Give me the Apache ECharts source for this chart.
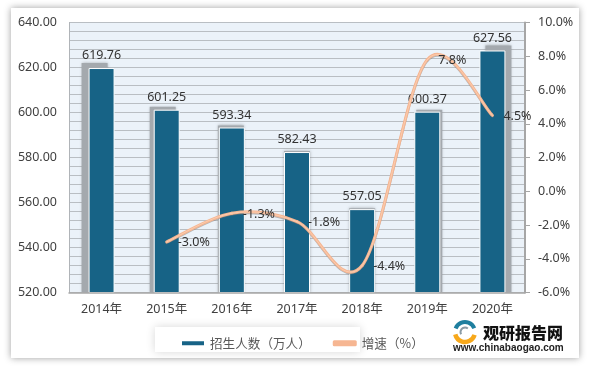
<!DOCTYPE html>
<html><head><meta charset="utf-8">
<style>html,body{margin:0;padding:0;background:#fff}#c{width:589px;height:373px}</style>
<script src="https://cdn.jsdelivr.net/npm/echarts@6/dist/echarts.min.js"></script>
</head><body><div id="c"></div>
<script>
const categories = ['2014年','2015年','2016年','2017年','2018年','2019年','2020年'];
const enrolment = [619.76,601.25,593.34,582.43,557.05,600.37,627.56];
const growth = [null,-3.0,-1.3,-1.8,-4.4,7.8,4.5];
const barShadowX = [-7,-4,-1,0,0,2,6];
const barShadowY = [-5,-3,-2,-1,-1,-2,-5];
const barName = '招生人数（万人）';
const lineName = '增速（%）';
const logoTitle = '观研报告网';
const logoUrl = 'www.chinabaogao.com';
const latin = '"Noto Sans","Noto Sans CJK SC",sans-serif';
const BAR_W = 26;

function seg(api, i){
  const p = k => api.coord([k, growth[k]]);
  const first = 1, last = growth.length-1;
  const p1 = p(i), p2 = p(i+1), p0 = i>first ? p(i-1) : p1, p3 = i+1<last ? p(i+2) : p2;
  return {x1:p1[0],y1:p1[1],x2:p2[0],y2:p2[1],
    cpx1:p1[0]+(p2[0]-p0[0])/6, cpy1:p1[1]+(p2[1]-p0[1])/6,
    cpx2:p2[0]-(p3[0]-p1[0])/6, cpy2:p2[1]-(p3[1]-p1[1])/6};
}
function renderLine(params, api){
  const i = params.dataIndex;
  if (growth[i]==null) return {type:'group',children:[]};
  const kids = [];
  if (i < growth.length-1){
    const s = seg(api,i);
    const t = (dy,stroke,w,z2)=>({type:'bezierCurve',z2,x:0,y:dy,shape:s,style:{fill:null,stroke,lineWidth:w,lineCap:'round'},silent:true});
    kids.push(t(1,'rgba(120,120,120,.5)',2.6,1));
    kids.push(t(0,'#F6B692',3,2));
    kids.push(t(0,'#FBD2B8',0.8,3));
  }
  const c = api.coord([i,growth[i]]);
  kids.push({type:'text',z2:5,style:{text:growth[i].toFixed(1)+'%',x:c[0]+11,y:c[1]+1,align:'left',verticalAlign:'middle',fill:'#333',font:'12.5px '+latin}});
  return {type:'group',children:kids};
}
function renderShadow(params, api){
  const i = params.dataIndex;
  const top = api.coord([i, enrolment[i]]);
  const base = api.coord([i, 520]);
  const dx = barShadowX[i], dy = barShadowY[i];
  return {type:'rect',silent:true,
    shape:{x:top[0]-BAR_W/2+dx,y:top[1]+dy,width:BAR_W,height:base[1]-top[1]-dy},
    style:{fill:'#A4A9AE',shadowColor:'rgba(120,125,130,.6)',shadowBlur:3}};
}
const chart = echarts.init(document.getElementById('c'),null,{renderer:'canvas'});
chart.setOption({
  animation:false,
  backgroundColor:'#fff',
  grid:{left:69,right:64,top:22.5,bottom:80.5,show:true,backgroundColor:'#EBF2F9',borderWidth:0},
  legend:{left:175,top:332,itemWidth:24,itemHeight:6,itemGap:22,
    textStyle:{color:'#595959',fontSize:12.6,fontFamily:'"Noto Sans CJK SC",sans-serif'},
    data:[{name:barName,icon:'rect'},{name:lineName,icon:'roundRect'}]},
  xAxis:{type:'category',data:categories,z:6,
    axisLine:{onZero:false,lineStyle:{color:'#A6A6A6',width:1.5}},axisTick:{show:false},
    axisLabel:{color:'#404040',fontSize:12.5,margin:11,fontFamily:latin}},
  yAxis:[
    {type:'value',min:520,max:640,interval:20,
     axisLine:{show:true,lineStyle:{color:'#B0B4B8',width:1}},axisTick:{show:false},
     axisLabel:{color:'#404040',fontSize:12.5,margin:12,fontFamily:latin,formatter:v=>v.toFixed(2)},
     splitLine:{show:true,lineStyle:{color:'#B9BEC3',width:1}},
     minorTick:{show:false,splitNumber:5},
     minorSplitLine:{show:true,lineStyle:{color:'#B9BEC3',width:1}}},
    {type:'value',min:-6,max:10,interval:2,
     axisLine:{show:true,onZero:false,lineStyle:{color:'#A6A6A6',width:2}},
     axisTick:{show:true,length:5,lineStyle:{color:'#A6A6A6',width:1}},
     axisLabel:{color:'#404040',fontSize:12.5,margin:13,fontFamily:latin,formatter:v=>v.toFixed(1)+'%'},
     splitLine:{show:false}}
  ],
  series:[
    {type:'custom',name:'barShadow',z:1,clip:true,silent:true,renderItem:renderShadow,encode:{x:0,y:1},
     data:enrolment.map((v,i)=>[i,v])},
    {name:barName,type:'bar',barWidth:BAR_W,z:2,
     itemStyle:{color:'#176386',borderColor:'#fff',borderWidth:1},
     data:enrolment,
     label:{show:true,position:'top',distance:6,color:'#333',fontSize:12.5,fontFamily:latin,formatter:p=>p.value.toFixed(2)}},
    {name:lineName,type:'custom',yAxisIndex:1,z:5,clip:false,
     itemStyle:{color:'#F6B692'},
     renderItem:renderLine,
     encode:{x:0,y:1},
     data:growth.map((v,i)=>[i,v==null?'-':v])}
  ],
  graphic:{elements:[
    {type:'rect',z:-10,shape:{x:11,y:8,width:568,height:350},silent:true,
     style:{fill:'#fff',shadowColor:'rgba(0,0,0,.38)',shadowBlur:7}},
    {type:'rect',z:1,shape:{x:155,y:327,width:205,height:25},silent:true,
     style:{fill:'#fff',shadowColor:'rgba(0,0,0,.16)',shadowBlur:10}},
    {type:'arc',z:10,shape:{cx:465,cy:332,r:10,startAngle:3.5,endAngle:5.9},silent:true,style:{fill:null,stroke:'#1F7F9F',lineWidth:4}},
    {type:'arc',z:10,shape:{cx:465,cy:332,r:10,startAngle:0.3,endAngle:2.9},silent:true,style:{fill:null,stroke:'#F7A81B',lineWidth:4.5}},
    {type:'arc',z:10,shape:{cx:465,cy:332,r:4.5,startAngle:2.6,endAngle:5.4},silent:true,style:{fill:null,stroke:'#8A9BA5',lineWidth:2}},
    {type:'text',z:10,style:{text:logoTitle,x:483,y:333,verticalAlign:'middle',fill:'#111',font:'900 16px "Noto Sans CJK SC",sans-serif'}},
    {type:'text',z:10,style:{text:logoUrl,x:453,y:348,verticalAlign:'middle',fill:'#222',font:'bold 10px "Liberation Sans",sans-serif'}}
  ]}
});
</script></body></html>
